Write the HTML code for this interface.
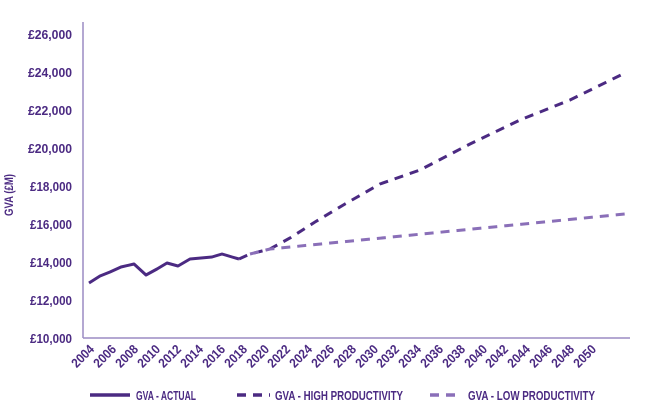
<!DOCTYPE html><html><head><style>body{margin:0;background:#fff}svg text{font-family:"Liberation Sans",sans-serif;font-weight:bold;fill:#4b2a82}</style></head><body>
<svg width="650" height="409" xmlns="http://www.w3.org/2000/svg">
<line x1="83" y1="22" x2="83" y2="338" stroke="#9c8cc4" stroke-width="1.5"/>
<line x1="83" y1="338" x2="630" y2="338" stroke="#9c8cc4" stroke-width="1.5"/>
<g font-size="13" text-anchor="end">
<text x="72" y="39" textLength="44" lengthAdjust="spacingAndGlyphs">£26,000</text><text x="72" y="77" textLength="44" lengthAdjust="spacingAndGlyphs">£24,000</text><text x="72" y="115" textLength="44" lengthAdjust="spacingAndGlyphs">£22,000</text><text x="72" y="153" textLength="44" lengthAdjust="spacingAndGlyphs">£20,000</text><text x="72" y="191" textLength="42" lengthAdjust="spacingAndGlyphs">£18,000</text><text x="72" y="229" textLength="42" lengthAdjust="spacingAndGlyphs">£16,000</text><text x="72" y="267" textLength="42" lengthAdjust="spacingAndGlyphs">£14,000</text><text x="72" y="305" textLength="42" lengthAdjust="spacingAndGlyphs">£12,000</text><text x="72" y="343" textLength="42" lengthAdjust="spacingAndGlyphs">£10,000</text>
</g>
<text x="13" y="195" font-size="12" text-anchor="middle" transform="rotate(-90 13 195)" textLength="42" lengthAdjust="spacingAndGlyphs">GVA (£M)</text>
<polyline fill="none" stroke="#4b2a82" stroke-width="3" stroke-linejoin="round" points="89,283 100,276 110,272 121,267 134,264 146,275 157,269 167,263 178,266 190,259 201,258 212,257 222,254 232,257 239,259"/>
<polyline fill="none" stroke="#4b2a82" stroke-width="3" stroke-dasharray="9,7" points="239,259 250,254 270,249 290,238 315,222 345,204 380,184 420,170 470,144 520,120 570,100 625,73"/>
<polyline fill="none" stroke="#8a6fb8" stroke-width="3" stroke-dasharray="9,7" points="250,254 270,249 625,214"/>
<line x1="90" y1="395" x2="130" y2="395" stroke="#4b2a82" stroke-width="3.5"/>
<text x="136" y="400" font-size="13" textLength="60" lengthAdjust="spacingAndGlyphs">GVA - ACTUAL</text>
<line x1="237" y1="395" x2="270" y2="395" stroke="#4b2a82" stroke-width="3.5" stroke-dasharray="9,7"/>
<text x="275" y="400" font-size="13" textLength="128" lengthAdjust="spacingAndGlyphs">GVA - HIGH PRODUCTIVITY</text>
<line x1="430" y1="395" x2="462" y2="395" stroke="#8a6fb8" stroke-width="3.5" stroke-dasharray="9,7"/>
<text x="468" y="400" font-size="13" textLength="127" lengthAdjust="spacingAndGlyphs">GVA - LOW PRODUCTIVITY</text>
<g font-size="13" text-anchor="end">
<text transform="translate(95,350) rotate(-45)" textLength="26" lengthAdjust="spacingAndGlyphs">2004</text>
<text transform="translate(117,350) rotate(-45)" textLength="26" lengthAdjust="spacingAndGlyphs">2006</text>
<text transform="translate(139,350) rotate(-45)" textLength="26" lengthAdjust="spacingAndGlyphs">2008</text>
<text transform="translate(161,350) rotate(-45)" textLength="26" lengthAdjust="spacingAndGlyphs">2010</text>
<text transform="translate(182,350) rotate(-45)" textLength="26" lengthAdjust="spacingAndGlyphs">2012</text>
<text transform="translate(204,350) rotate(-45)" textLength="26" lengthAdjust="spacingAndGlyphs">2014</text>
<text transform="translate(226,350) rotate(-45)" textLength="26" lengthAdjust="spacingAndGlyphs">2016</text>
<text transform="translate(248,350) rotate(-45)" textLength="26" lengthAdjust="spacingAndGlyphs">2018</text>
<text transform="translate(270,350) rotate(-45)" textLength="26" lengthAdjust="spacingAndGlyphs">2020</text>
<text transform="translate(291,350) rotate(-45)" textLength="26" lengthAdjust="spacingAndGlyphs">2022</text>
<text transform="translate(313,350) rotate(-45)" textLength="26" lengthAdjust="spacingAndGlyphs">2024</text>
<text transform="translate(335,350) rotate(-45)" textLength="26" lengthAdjust="spacingAndGlyphs">2026</text>
<text transform="translate(357,350) rotate(-45)" textLength="26" lengthAdjust="spacingAndGlyphs">2028</text>
<text transform="translate(379,350) rotate(-45)" textLength="26" lengthAdjust="spacingAndGlyphs">2030</text>
<text transform="translate(400,350) rotate(-45)" textLength="26" lengthAdjust="spacingAndGlyphs">2032</text>
<text transform="translate(422,350) rotate(-45)" textLength="26" lengthAdjust="spacingAndGlyphs">2034</text>
<text transform="translate(444,350) rotate(-45)" textLength="26" lengthAdjust="spacingAndGlyphs">2036</text>
<text transform="translate(466,350) rotate(-45)" textLength="26" lengthAdjust="spacingAndGlyphs">2038</text>
<text transform="translate(488,350) rotate(-45)" textLength="26" lengthAdjust="spacingAndGlyphs">2040</text>
<text transform="translate(509,350) rotate(-45)" textLength="26" lengthAdjust="spacingAndGlyphs">2042</text>
<text transform="translate(531,350) rotate(-45)" textLength="26" lengthAdjust="spacingAndGlyphs">2044</text>
<text transform="translate(553,350) rotate(-45)" textLength="26" lengthAdjust="spacingAndGlyphs">2046</text>
<text transform="translate(575,350) rotate(-45)" textLength="26" lengthAdjust="spacingAndGlyphs">2048</text>
<text transform="translate(597,350) rotate(-45)" textLength="26" lengthAdjust="spacingAndGlyphs">2050</text>
</g>
</svg></body></html>
